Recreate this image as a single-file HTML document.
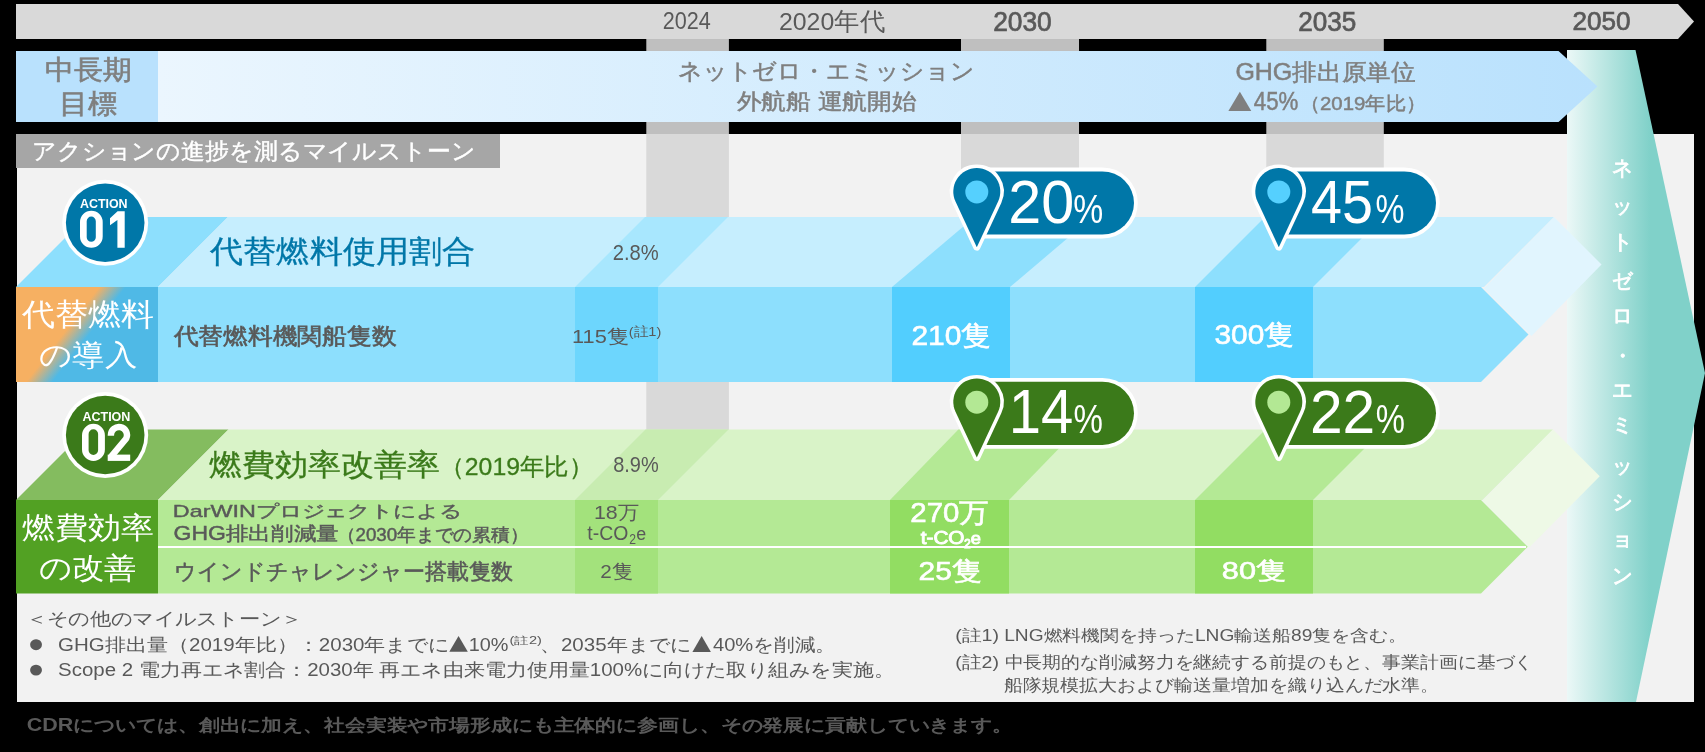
<!DOCTYPE html>
<html lang="ja"><head><meta charset="utf-8"><title>milestones</title>
<style>html,body{margin:0;padding:0;background:#000;}svg{display:block;will-change:transform;}text{-webkit-font-smoothing:antialiased;}</style></head>
<body><svg width="1705" height="752" viewBox="0 0 1705 752" font-family="'Liberation Sans', sans-serif" xml:space="preserve">
<defs>
<linearGradient id="gGoal" gradientUnits="userSpaceOnUse" x1="158" y1="0" x2="1597" y2="0">
<stop offset="0" stop-color="#ebf6fe"/><stop offset="1" stop-color="#b9e1fd"/></linearGradient>
<linearGradient id="gTeal" gradientUnits="userSpaceOnUse" x1="1567" y1="0" x2="1650" y2="0">
<stop offset="0" stop-color="#ebf8f7"/><stop offset="1" stop-color="#80d1c9"/></linearGradient>
<linearGradient id="gOr" gradientUnits="userSpaceOnUse" x1="67.6" y1="328.1" x2="84.2" y2="340.9">
<stop offset="0" stop-color="#f6b062"/><stop offset="1" stop-color="#4fb9e6"/></linearGradient>
</defs>
<rect x="0" y="0" width="1705" height="752" fill="#000"/>
<polygon points="16,4 1678,4 1694,21.5 1678,39 16,39" fill="#d9d9d9" />
<rect x="17" y="134" width="1677" height="568" fill="#f2f2f2" />
<rect x="646.3" y="39" width="82.6" height="95" fill="#bfbfbf" />
<rect x="646.3" y="134" width="82.6" height="366" fill="#d9d9d9" />
<rect x="961" y="39" width="118" height="95" fill="#bfbfbf" />
<rect x="961" y="134" width="118" height="366" fill="#d9d9d9" />
<rect x="1266.3" y="39" width="117.5" height="95" fill="#bfbfbf" />
<rect x="1266.3" y="134" width="117.5" height="366" fill="#d9d9d9" />
<polygon points="1567,50 1635.5,50 1705,373 1636,702 1567,702" fill="url(#gTeal)" />
<polygon points="158,51 1558.5,51 1597.5,86.5 1558.5,122 158,122" fill="url(#gGoal)" />
<rect x="16" y="51" width="142" height="71" fill="#b9e1fd" />
<rect x="16" y="134" width="484" height="34" fill="#a6a6a6" />
<polygon points="16,287 86,217 228,217 158,287" fill="#8ddffd" />
<polygon points="158,287 228,217 1554,217 1484,287" fill="#c6eefe" />
<polygon points="1484,288.5 1554,217 1601.5,264.5 1531.5,336" fill="#e1f5fe" />
<polygon points="158,287 1481,287 1528.5,334.5 1481,382 158,382" fill="#8ddffd" />
<polygon points="575,287 645,217 728,217 658,287" fill="#a8e7fe" />
<rect x="575" y="287" width="83" height="95" fill="#6dd6fd" />
<polygon points="892,287 974.6,217 1092.6,217 1010,287" fill="#8ddffd" />
<rect x="892" y="287" width="118" height="95" fill="#52cefe" />
<polygon points="1195,287 1265,217 1383,217 1313,287" fill="#8ddffd" />
<rect x="1195" y="287" width="118" height="95" fill="#52cefe" />
<rect x="16" y="287" width="142" height="95" fill="url(#gOr)" />
<circle cx="105.2" cy="222.7" r="43" fill="#fff"/>
<circle cx="105.2" cy="222.7" r="39.3" fill="#0077a8"/>
<polygon points="16,500 86.5,429.5 228.5,429.5 158,500" fill="#84bc5f" />
<polygon points="158,500 228.5,429.5 1553,429.5 1482.5,500" fill="#d9f3c8" />
<polygon points="1482.5,500.75 1553,429.5 1599.75,476.25 1529.25,547.5" fill="#eef9e6" />
<polygon points="158,500 1481,500 1527.75,546.75 1481,593.5 158,593.5" fill="#b4e995" />
<polygon points="575,500 645.5,429.5 728.5,429.5 658,500" fill="#c8ecb1" />
<rect x="575" y="500" width="83" height="93.5" fill="#a3e27c" />
<polygon points="890,500 958.385,429.5 1077.38,429.5 1009,500" fill="#b4e995" />
<rect x="890" y="500" width="119" height="93.5" fill="#92dd62" />
<polygon points="1195,500 1265.5,429.5 1383.5,429.5 1313,500" fill="#b4e995" />
<rect x="1195" y="500" width="118" height="93.5" fill="#92dd62" />
<rect x="16" y="500" width="142" height="93.5" fill="#52a123" />
<circle cx="105.2" cy="435" r="43" fill="#fff"/>
<circle cx="105.2" cy="435" r="39.3" fill="#3b7a1a"/>
<path d="M80.00,222.05 A11.35,11.35 0 0 1 102.70,222.05 V236.45 A11.35,11.35 0 0 1 80.00,236.45 Z M86.70,221.15 A4.55,4.55 0 0 1 95.80,221.15 V237.25 A4.55,4.55 0 0 1 86.70,237.25 Z" fill="#fff" fill-rule="evenodd"/>
<polygon points="110,218.3 117.6,211.2 124.7,211.2 124.7,247.8 117.4,247.8 117.4,219.9 110,225.2" fill="#fff" />
<path d="M82.00,435.25 A11.45,11.45 0 0 1 104.90,435.25 V449.45 A11.45,11.45 0 0 1 82.00,449.45 Z M88.60,434.05 A4.75,4.75 0 0 1 98.10,434.05 V450.15 A4.75,4.75 0 0 1 88.60,450.15 Z" fill="#fff" fill-rule="evenodd"/>
<path d="M110.90,435.70 L110.90,435.10 A8.05,8.05 0 1 1 126.25,438.50 L111.2,456.5" fill="none" stroke="#fff" stroke-width="6.4" stroke-linejoin="round"/>
<rect x="107.7" y="454.6" width="22.5" height="6.3" fill="#fff" />
<rect x="158" y="546" width="1368" height="2" fill="#fff" />
<path d="M976.80,171.40 H1102.40 A31.60,31.60 0 0 1 1102.40,234.60 H976.80 Z" fill="#0077a8" stroke="#fff" stroke-width="7.6" stroke-linejoin="round" paint-order="stroke"/>
<path d="M976.80,247.20 L955.50,201.53 A23.5,23.5 0 1 1 998.10,201.53 Z" fill="#0077a8" stroke="#fff" stroke-width="7" stroke-linejoin="round" paint-order="stroke"/>
<circle cx="976.8" cy="191.9" r="11.5" fill="#55d0fe"/>
<path d="M1278.80,171.40 H1404.40 A31.60,31.60 0 0 1 1404.40,234.60 H1278.80 Z" fill="#0077a8" stroke="#fff" stroke-width="7.6" stroke-linejoin="round" paint-order="stroke"/>
<path d="M1278.80,247.20 L1257.50,201.53 A23.5,23.5 0 1 1 1300.10,201.53 Z" fill="#0077a8" stroke="#fff" stroke-width="7" stroke-linejoin="round" paint-order="stroke"/>
<circle cx="1278.8" cy="191.9" r="11.5" fill="#55d0fe"/>
<path d="M976.80,381.70 H1102.40 A31.60,31.60 0 0 1 1102.40,444.90 H976.80 Z" fill="#3b7a1a" stroke="#fff" stroke-width="7.6" stroke-linejoin="round" paint-order="stroke"/>
<path d="M976.80,457.50 L955.50,411.83 A23.5,23.5 0 1 1 998.10,411.83 Z" fill="#3b7a1a" stroke="#fff" stroke-width="7" stroke-linejoin="round" paint-order="stroke"/>
<circle cx="976.8" cy="402.2" r="11.5" fill="#b3e894"/>
<path d="M1278.80,381.70 H1404.40 A31.60,31.60 0 0 1 1404.40,444.90 H1278.80 Z" fill="#3b7a1a" stroke="#fff" stroke-width="7.6" stroke-linejoin="round" paint-order="stroke"/>
<path d="M1278.80,457.50 L1257.50,411.83 A23.5,23.5 0 1 1 1300.10,411.83 Z" fill="#3b7a1a" stroke="#fff" stroke-width="7" stroke-linejoin="round" paint-order="stroke"/>
<circle cx="1278.8" cy="402.2" r="11.5" fill="#b3e894"/>
<polygon points="449.3,651.7 458.55,635.9 467.8,651.7" fill="#595959"/>
<polygon points="692.4,651.9 701.65,635.9 710.9,651.9" fill="#595959"/>
<g opacity="0.999">
<text x="662.82" y="28.97" font-size="23.38" fill="#595959" textLength="48.03" lengthAdjust="spacingAndGlyphs">2024</text>
<text x="778.94" y="29.71" font-size="24.52" fill="#595959" textLength="106.08" lengthAdjust="spacingAndGlyphs">2020年代</text>
<text x="993.13" y="30.68" font-size="26.76" fill="#595959" stroke="#595959" stroke-width="0.7" textLength="58.59" lengthAdjust="spacingAndGlyphs">2030</text>
<text x="1298.14" y="30.68" font-size="26.76" fill="#595959" stroke="#595959" stroke-width="0.7" textLength="58.07" lengthAdjust="spacingAndGlyphs">2035</text>
<text x="1572.44" y="30.29" font-size="25.92" fill="#595959" stroke="#595959" stroke-width="0.7" textLength="58.07" lengthAdjust="spacingAndGlyphs">2050</text>
<text x="45.37" y="78.57" font-size="26.91" fill="#7f7f7f" stroke="#7f7f7f" stroke-width="0.6" textLength="86.75" lengthAdjust="spacingAndGlyphs">中長期</text>
<text x="59.22" y="113.48" font-size="26.81" fill="#7f7f7f" stroke="#7f7f7f" stroke-width="0.6" textLength="58.35" lengthAdjust="spacingAndGlyphs">目標</text>
<text x="678.20" y="78.77" font-size="22.89" fill="#7f7f7f" stroke="#7f7f7f" stroke-width="0.5" textLength="296.12" lengthAdjust="spacingAndGlyphs">ネットゼロ・エミッション</text>
<text x="736.60" y="109.18" font-size="21.94" fill="#7f7f7f" stroke="#7f7f7f" stroke-width="0.5" textLength="179.74" lengthAdjust="spacingAndGlyphs">外航船 運航開始</text>
<text x="1235.41" y="79.68" font-size="23.33" fill="#7f7f7f" stroke="#7f7f7f" stroke-width="0.5" textLength="179.98" lengthAdjust="spacingAndGlyphs">GHG排出原単位</text>
<text x="1220.58" y="110.70" font-size="32.93" fill="#7f7f7f" textLength="38.73" lengthAdjust="spacingAndGlyphs">▲</text>
<text x="1253.80" y="110.49" font-size="26.00" fill="#7f7f7f" stroke="#7f7f7f" stroke-width="0.5" textLength="44.65" lengthAdjust="spacingAndGlyphs">45%</text>
<text x="1299.77" y="109.60" font-size="19.09" fill="#7f7f7f" stroke="#7f7f7f" stroke-width="0.5" textLength="126.27" lengthAdjust="spacingAndGlyphs">（2019年比）</text>
<text x="31.87" y="159.01" font-size="23.06" fill="#fff" stroke="#fff" stroke-width="0.4" textLength="443.90" lengthAdjust="spacingAndGlyphs">アクションの進捗を測るマイルストーン</text>
<text x="79.93" y="207.67" font-size="13.24" fill="#fff" font-weight="bold" textLength="47.68" lengthAdjust="spacingAndGlyphs">ACTION</text>
<text x="210.35" y="262.45" font-size="30.72" fill="#0077a8" stroke="#0077a8" stroke-width="0.3" textLength="264.55" lengthAdjust="spacingAndGlyphs">代替燃料使用割合</text>
<text x="612.69" y="259.98" font-size="21.97" fill="#595959" textLength="46.00" lengthAdjust="spacingAndGlyphs">2.8%</text>
<text x="22.00" y="325.49" font-size="30.84" fill="#fff" textLength="132.09" lengthAdjust="spacingAndGlyphs">代替燃料</text>
<text x="38.70" y="364.82" font-size="29.19" fill="#fff" textLength="98.30" lengthAdjust="spacingAndGlyphs">の導入</text>
<text x="173.50" y="343.55" font-size="23.23" fill="#595959" stroke="#595959" stroke-width="0.6" textLength="222.84" lengthAdjust="spacingAndGlyphs">代替燃料機関船隻数</text>
<text x="572.05" y="342.85" font-size="18.72" fill="#595959" textLength="56.86" lengthAdjust="spacingAndGlyphs">115隻</text>
<text x="628.72" y="336.00" font-size="12.86" fill="#595959" textLength="32.59" lengthAdjust="spacingAndGlyphs">(註1)</text>
<text x="911.41" y="344.63" font-size="27.23" fill="#fff" stroke="#fff" stroke-width="0.6" textLength="79.75" lengthAdjust="spacingAndGlyphs">210隻</text>
<text x="1214.51" y="344.46" font-size="27.02" fill="#fff" stroke="#fff" stroke-width="0.6" textLength="79.64" lengthAdjust="spacingAndGlyphs">300隻</text>
<text x="1008.23" y="222.68" font-size="61.69" fill="#fff" textLength="65.98" lengthAdjust="spacingAndGlyphs">20</text>
<text x="1073.15" y="222.89" font-size="41.29" fill="#fff" textLength="29.97" lengthAdjust="spacingAndGlyphs">%</text>
<text x="1311.09" y="222.68" font-size="62.00" fill="#fff" textLength="61.97" lengthAdjust="spacingAndGlyphs">45</text>
<text x="1375.50" y="222.89" font-size="40.71" fill="#fff" textLength="28.98" lengthAdjust="spacingAndGlyphs">%</text>
<text x="82.42" y="420.86" font-size="13.66" fill="#fff" font-weight="bold" textLength="47.99" lengthAdjust="spacingAndGlyphs">ACTION</text>
<text x="209.42" y="475.38" font-size="29.80" fill="#3b7a1a" stroke="#3b7a1a" stroke-width="0.3" textLength="230.75" lengthAdjust="spacingAndGlyphs">燃費効率改善率</text>
<text x="440.38" y="475.01" font-size="24.34" fill="#3b7a1a" stroke="#3b7a1a" stroke-width="0.3" textLength="152.96" lengthAdjust="spacingAndGlyphs">（2019年比）</text>
<text x="613.20" y="471.68" font-size="22.39" fill="#595959" textLength="45.48" lengthAdjust="spacingAndGlyphs">8.9%</text>
<text x="21.67" y="538.00" font-size="30.00" fill="#fff" textLength="131.95" lengthAdjust="spacingAndGlyphs">燃費効率</text>
<text x="38.50" y="577.53" font-size="29.11" fill="#fff" textLength="98.20" lengthAdjust="spacingAndGlyphs">の改善</text>
<text x="172.89" y="517.39" font-size="17.37" fill="#595959" stroke="#595959" stroke-width="0.4" textLength="288.71" lengthAdjust="spacingAndGlyphs">DarWINプロジェクトによる</text>
<text x="173.59" y="540.47" font-size="19.32" fill="#595959" stroke="#595959" stroke-width="0.45" textLength="165.15" lengthAdjust="spacingAndGlyphs">GHG排出削減量</text>
<text x="336.80" y="541.23" font-size="17.91" fill="#595959" stroke="#595959" stroke-width="0.45" textLength="191.78" lengthAdjust="spacingAndGlyphs">（2030年までの累積）</text>
<text x="593.90" y="519.42" font-size="19.09" fill="#595959" textLength="45.01" lengthAdjust="spacingAndGlyphs">18万</text>
<text x="587.31" y="539.70" font-size="19.58" fill="#595959" textLength="40.98" lengthAdjust="spacingAndGlyphs">t-CO</text>
<text x="629.29" y="544.00" font-size="14.00" fill="#595959" textLength="6.77" lengthAdjust="spacingAndGlyphs">2</text>
<text x="636.29" y="539.72" font-size="18.00" fill="#595959" textLength="9.94" lengthAdjust="spacingAndGlyphs">e</text>
<text x="910.33" y="522.31" font-size="26.82" fill="#fff" stroke="#fff" stroke-width="0.6" textLength="78.61" lengthAdjust="spacingAndGlyphs">270万</text>
<text x="920.74" y="544.27" font-size="18.45" fill="#fff" stroke="#fff" stroke-width="0.9" textLength="43.77" lengthAdjust="spacingAndGlyphs">t-CO</text>
<text x="963.94" y="548.35" font-size="12.00" fill="#fff" stroke="#fff" stroke-width="0.9" textLength="6.77" lengthAdjust="spacingAndGlyphs">2</text>
<text x="970.72" y="544.38" font-size="16.91" fill="#fff" stroke="#fff" stroke-width="0.9" textLength="10.18" lengthAdjust="spacingAndGlyphs">e</text>
<text x="173.57" y="578.89" font-size="21.88" fill="#595959" stroke="#595959" stroke-width="0.5" textLength="339.85" lengthAdjust="spacingAndGlyphs">ウインドチャレンジャー搭載隻数</text>
<text x="600.35" y="578.28" font-size="18.51" fill="#595959" textLength="32.63" lengthAdjust="spacingAndGlyphs">2隻</text>
<text x="918.60" y="580.27" font-size="26.06" fill="#fff" stroke="#fff" stroke-width="0.6" textLength="63.26" lengthAdjust="spacingAndGlyphs">25隻</text>
<text x="1221.88" y="579.28" font-size="24.36" fill="#fff" stroke="#fff" stroke-width="0.6" textLength="64.32" lengthAdjust="spacingAndGlyphs">80隻</text>
<text x="1008.65" y="432.50" font-size="62.17" fill="#fff" textLength="64.63" lengthAdjust="spacingAndGlyphs">14</text>
<text x="1073.58" y="432.99" font-size="41.00" fill="#fff" textLength="29.42" lengthAdjust="spacingAndGlyphs">%</text>
<text x="1309.96" y="432.70" font-size="61.43" fill="#fff" textLength="65.31" lengthAdjust="spacingAndGlyphs">22</text>
<text x="1375.69" y="433.19" font-size="41.43" fill="#fff" textLength="29.20" lengthAdjust="spacingAndGlyphs">%</text>
<text x="1611.79" y="175.45" font-size="21.00" fill="#fff" stroke="#fff" stroke-width="0.8" textLength="21.42" lengthAdjust="spacingAndGlyphs">ネ</text>
<text x="1611.79" y="212.79" font-size="21.00" fill="#fff" stroke="#fff" stroke-width="0.8" textLength="21.42" lengthAdjust="spacingAndGlyphs">ッ</text>
<text x="1611.79" y="248.55" font-size="21.00" fill="#fff" stroke="#fff" stroke-width="0.8" textLength="21.42" lengthAdjust="spacingAndGlyphs">ト</text>
<text x="1611.79" y="287.59" font-size="21.00" fill="#fff" stroke="#fff" stroke-width="0.8" textLength="21.42" lengthAdjust="spacingAndGlyphs">ゼ</text>
<text x="1611.79" y="323.21" font-size="21.00" fill="#fff" stroke="#fff" stroke-width="0.8" textLength="21.42" lengthAdjust="spacingAndGlyphs">ロ</text>
<text x="1612.00" y="362.65" font-size="21.00" fill="#fff" stroke="#fff" stroke-width="0.8" textLength="21.00" lengthAdjust="spacingAndGlyphs">・</text>
<text x="1611.79" y="397.40" font-size="21.00" fill="#fff" stroke="#fff" stroke-width="0.8" textLength="21.42" lengthAdjust="spacingAndGlyphs">エ</text>
<text x="1611.79" y="431.99" font-size="21.00" fill="#fff" stroke="#fff" stroke-width="0.8" textLength="21.42" lengthAdjust="spacingAndGlyphs">ミ</text>
<text x="1611.79" y="472.70" font-size="21.00" fill="#fff" stroke="#fff" stroke-width="0.8" textLength="21.42" lengthAdjust="spacingAndGlyphs">ッ</text>
<text x="1611.79" y="509.24" font-size="21.00" fill="#fff" stroke="#fff" stroke-width="0.8" textLength="21.42" lengthAdjust="spacingAndGlyphs">シ</text>
<text x="1611.79" y="546.25" font-size="21.00" fill="#fff" stroke="#fff" stroke-width="0.8" textLength="21.42" lengthAdjust="spacingAndGlyphs">ョ</text>
<text x="1611.79" y="582.75" font-size="21.00" fill="#fff" stroke="#fff" stroke-width="0.8" textLength="21.42" lengthAdjust="spacingAndGlyphs">ン</text>
<text x="25.94" y="624.79" font-size="17.73" fill="#595959" textLength="276.61" lengthAdjust="spacingAndGlyphs">＜その他のマイルストーン＞</text>
<text x="27.73" y="651.56" font-size="25.12" fill="#595959" textLength="16.58" lengthAdjust="spacingAndGlyphs">●</text>
<text x="58.06" y="650.70" font-size="17.50" fill="#595959" textLength="390.68" lengthAdjust="spacingAndGlyphs">GHG排出量（2019年比）：2030年までに</text>
<text x="468.81" y="650.70" font-size="17.50" fill="#595959" textLength="39.71" lengthAdjust="spacingAndGlyphs">10%</text>
<text x="509.53" y="644.00" font-size="10.00" fill="#595959" textLength="32.38" lengthAdjust="spacingAndGlyphs">(註2)</text>
<text x="539.82" y="650.70" font-size="17.50" fill="#595959" textLength="151.16" lengthAdjust="spacingAndGlyphs">、2035年までに</text>
<text x="712.99" y="650.70" font-size="17.50" fill="#595959" textLength="122.92" lengthAdjust="spacingAndGlyphs">40%を削減。</text>
<text x="27.73" y="676.53" font-size="24.65" fill="#595959" textLength="16.58" lengthAdjust="spacingAndGlyphs">●</text>
<text x="58.06" y="675.60" font-size="17.50" fill="#595959" textLength="836.63" lengthAdjust="spacingAndGlyphs">Scope 2 電力再エネ割合：2030年 再エネ由来電力使用量100%に向けた取り組みを実施。</text>
<text x="955.22" y="641.26" font-size="15.90" fill="#595959" textLength="43.81" lengthAdjust="spacingAndGlyphs">(註1)</text>
<text x="1004.19" y="641.20" font-size="16.22" fill="#595959" textLength="402.74" lengthAdjust="spacingAndGlyphs">LNG燃料機関を持ったLNG輸送船89隻を含む。</text>
<text x="955.22" y="668.38" font-size="16.76" fill="#595959" textLength="43.81" lengthAdjust="spacingAndGlyphs">(註2)</text>
<text x="1004.57" y="668.02" font-size="16.53" fill="#595959" textLength="528.79" lengthAdjust="spacingAndGlyphs">中長期的な削減努力を継続する前提のもと、事業計画に基づく</text>
<text x="1003.62" y="691.14" font-size="17.25" fill="#595959" textLength="435.68" lengthAdjust="spacingAndGlyphs">船隊規模拡大および輸送量増加を織り込んだ水準。</text>
<text x="26.87" y="731.20" font-size="17.48" fill="#595959" font-weight="bold" textLength="986.13" lengthAdjust="spacingAndGlyphs">CDRについては、創出に加え、社会実装や市場形成にも主体的に参画し、その発展に貢献していきます。</text>
</g>
</svg></body></html>
